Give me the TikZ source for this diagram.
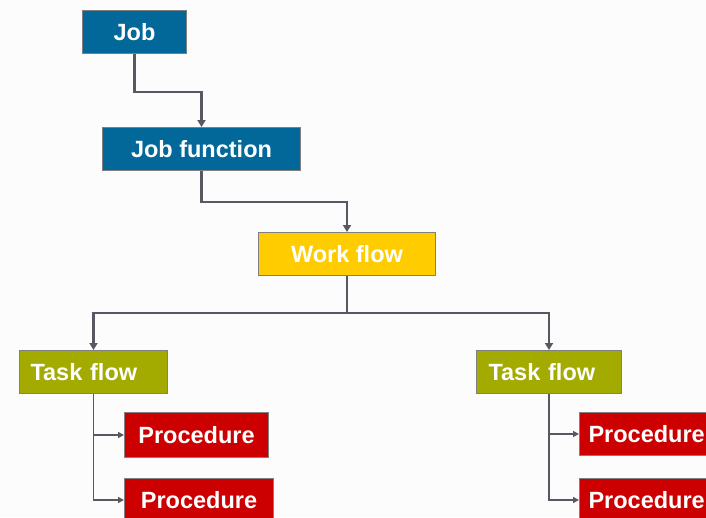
\documentclass[tikz,border=0pt]{standalone}
\usepackage{fontspec}
\setmainfont{Liberation Sans}
\usetikzlibrary{arrows.meta}
\definecolor{jobblue}{RGB}{2,104,153}
\definecolor{wfyellow}{RGB}{255,204,0}
\definecolor{tfolive}{RGB}{163,170,0}
\definecolor{procred}{RGB}{204,0,0}
\definecolor{boxgray}{RGB}{128,128,128}
\definecolor{conngray}{RGB}{88,88,98}
\definecolor{bg}{RGB}{252,252,252}
\begin{document}
\begin{tikzpicture}[x=1pt,y=-1pt,
  box/.style={draw=boxgray, line width=1pt, minimum height=43pt, inner sep=0pt,
    text=white, font=\fontsize{23.5}{26}\selectfont\bfseries, anchor=north west},
  leftbox/.style={align=left, inner xsep=#1},
  conn/.style={draw=conngray, line width=2.6pt, -{Triangle[length=7pt,width=8pt]}},
  thinconn/.style={draw=conngray, line width=1.6pt, -{Triangle[length=6pt,width=6pt]}}]
\useasboundingbox (0,0) rectangle (706,517);
\clip (0,0) rectangle (706,517);
\fill[bg] (0,0) rectangle (706,517);
\node[box, fill=jobblue, minimum width=104pt] (job) at (82,10) {Job};
\node[box, fill=jobblue, minimum width=198pt] (jf) at (102,127) {Job function};
\node[box, fill=wfyellow, minimum width=177pt] (wf) at (258,232) {Work flow};
\node[box, fill=tfolive, leftbox=11pt, text width=126pt] (tfL) at (19,350) {Task flow};
\node[box, fill=tfolive, leftbox=12pt, text width=121pt] (tfR) at (476,350) {Task flow};
\node[box, fill=procred, minimum width=144pt, minimum height=45pt] (pL1) at (124,412) {Procedure};
\node[box, fill=procred, minimum width=149pt] (pL2) at (124,478) {Procedure};
\node[box, fill=procred, leftbox=9pt, text width=135pt] (pR1) at (579,412) {Procedure};
\node[box, fill=procred, leftbox=9pt, text width=135pt] (pR2) at (579,478) {Procedure};

\draw[conn] (job.south) -- ++(0,38) -| (jf.north);
\draw[conn] (jf.south) -- ++(0,31) -| (wf.north);
\draw[draw=conngray, line width=2.6pt] (wf.south) -- ++(0,37) coordinate (split);
\draw[conn] (split) -| (tfL.north);
\draw[conn] (split) -| (tfR.north);
\draw[thinconn] (tfL.south) |- (pL2.west);
\draw[thinconn] (tfL.south |- pL1.west) -- (pL1.west);
\draw[thinconn] (tfR.south) |- (pR2.west);
\draw[thinconn] (tfR.south |- pR1.west) -- (pR1.west);
\end{tikzpicture}
\end{document}
